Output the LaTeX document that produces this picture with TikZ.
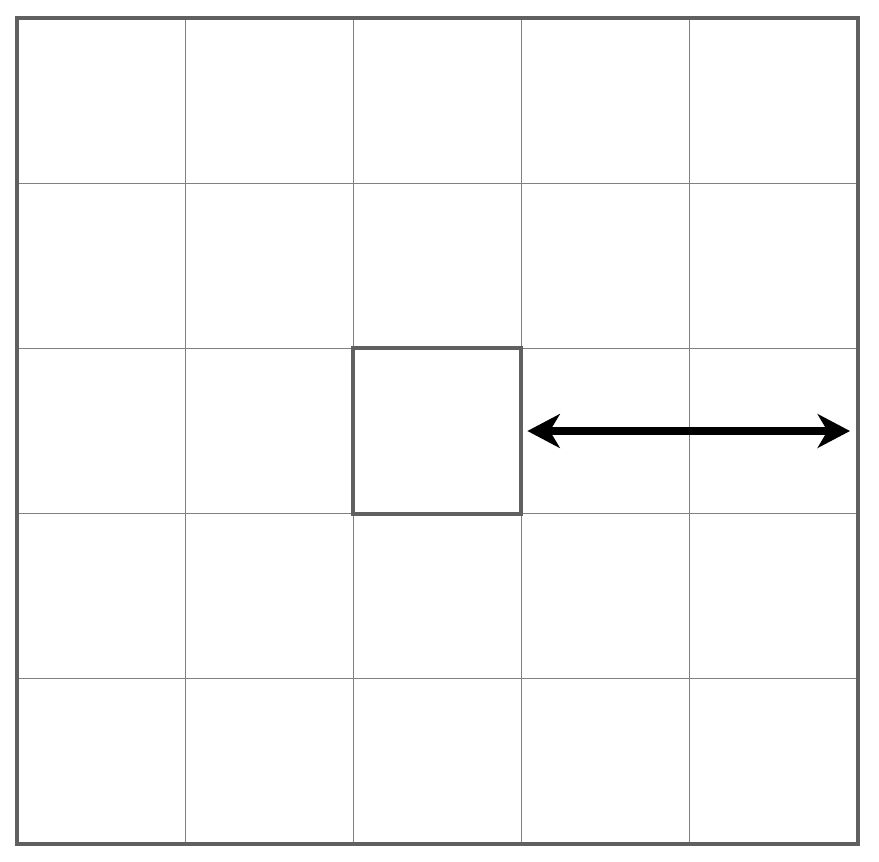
\documentclass[tikz,border=0pt]{standalone}
\usetikzlibrary{arrows.meta}
\definecolor{framegray}{HTML}{606060}
\definecolor{gridgray}{HTML}{808080}
\begin{document}
\begin{tikzpicture}[x=0.025cm,y=-0.025cm,
  cellbox/.style={draw=framegray, line width=2.8pt, minimum width=168.2*0.025cm, minimum height=165.2*0.025cm, inner sep=0pt},
  bigarrow/.style={{Stealth[length=23pt,width=24pt,inset=7pt]}-{Stealth[length=23pt,width=24pt,inset=7pt]}, line width=5.5pt, black}]
  \useasboundingbox (0,0) rectangle (879,861);
  % thin grid
  \foreach \i in {1,...,4} {
    \draw [gridgray, line width=0.7pt] (17+168.2*\i,18) -- (17+168.2*\i,844);
    \draw [gridgray, line width=0.7pt] (17,18+165.2*\i) -- (858,18+165.2*\i);
  }
  % outer frame
  \draw [framegray, line width=2.8pt] (17,18) rectangle (858,844);
  % middle cell and arrow
  \node (centre) [cellbox] at (437.1,431) {};
  \coordinate (rim) at (850,431);
  \draw [bigarrow] ([xshift=3pt]centre.east) -- (rim);
\end{tikzpicture}
\end{document}
